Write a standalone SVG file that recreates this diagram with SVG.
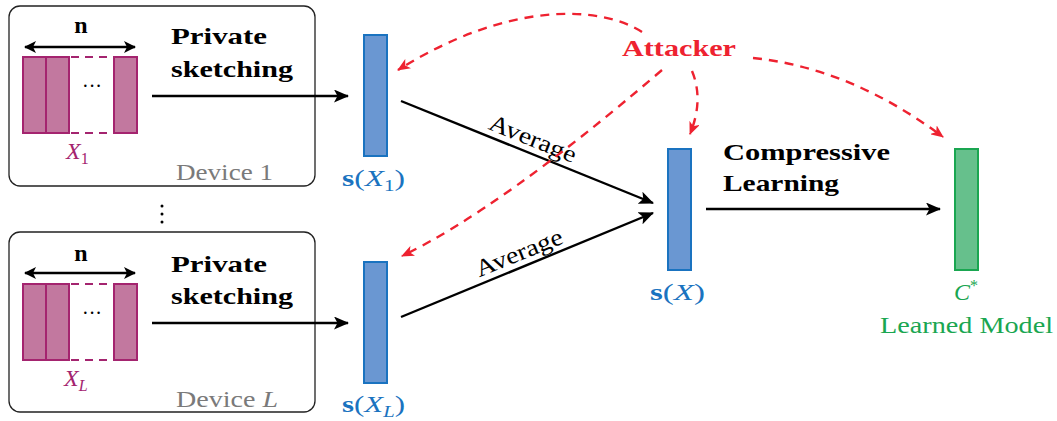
<svg xmlns="http://www.w3.org/2000/svg" width="1057" height="421" viewBox="0 0 1057 421">
<style>
text{font-family:"Liberation Serif","DejaVu Serif",serif;font-size:24px;}
.b{font-weight:bold;}
.it{font-style:italic;}
.dev{fill:#7a7a7a;}
.pur{fill:#a4246f;}
.blu{fill:#1a73c0;}
.grn{fill:#1aa651;}
.red{fill:#ee2230;}
.box{fill:none;stroke:#222;stroke-width:1.3;}
.pbar{fill:#c2789f;stroke:#a4246f;stroke-width:2;}
.pdash{stroke:#a4246f;stroke-width:2;stroke-dasharray:8 6;fill:none;}
.bbar{fill:#6a97d2;stroke:#1a73c0;stroke-width:2;}
.gbar{fill:#66c08c;stroke:#1aa651;stroke-width:2;}
.arr{stroke:#000;stroke-width:2.4;fill:none;marker-end:url(#ah);}
.dim{stroke:#000;stroke-width:2.4;fill:none;marker-end:url(#ah2);marker-start:url(#ah2s);}
.att{stroke:#ee2230;stroke-width:2.4;fill:none;stroke-dasharray:9 7;marker-end:url(#rh);}
.sub{font-size:16px;}
</style>
<defs>
<marker id="ah" viewBox="0 0 15 13" markerWidth="15" markerHeight="13" refX="14" refY="6.5" orient="auto" markerUnits="userSpaceOnUse"><path d="M0,0 L15,6.5 L0,13 L3.5,6.5 z" fill="#000"/></marker>
<marker id="ah2" viewBox="0 0 12 12" markerWidth="12" markerHeight="12" refX="11" refY="6" orient="auto" markerUnits="userSpaceOnUse"><path d="M0,0 L12,6 L0,12 L3,6 z" fill="#000"/></marker>
<marker id="ah2s" viewBox="0 0 12 12" markerWidth="12" markerHeight="12" refX="1" refY="6" orient="auto" markerUnits="userSpaceOnUse"><path d="M12,0 L0,6 L12,12 L9,6 z" fill="#000"/></marker>
<marker id="rh" viewBox="0 0 13 11" markerWidth="13" markerHeight="11" refX="12" refY="5.5" orient="auto" markerUnits="userSpaceOnUse"><path d="M0,0 L13,5.5 L0,11 L3.5,5.5 z" fill="#ee2230"/></marker>
</defs>

<g id="device1">
<rect class="box" x="9" y="6" width="306" height="180" rx="11"/>
<path class="dim" d="M25,47 L135,47"/>
<text class="b" x="81" y="33" text-anchor="middle">n</text>
<rect class="pbar" x="23" y="57" width="23" height="76"/>
<rect class="pbar" x="46" y="57" width="23" height="76"/>
<path class="pdash" d="M71,57 L114,57 M71,133 L114,133"/>
<rect class="pbar" x="114" y="57" width="23" height="76"/>
<text x="92" y="93" text-anchor="middle" style="font-size:20px">···</text>
<text class="pur" x="66" y="159"><tspan class="it">X</tspan><tspan class="sub" dy="5">1</tspan></text>
<text class="b" x="171" y="44" textLength="96" lengthAdjust="spacingAndGlyphs">Private</text>
<text class="b" x="171" y="77" textLength="122" lengthAdjust="spacingAndGlyphs">sketching</text>
<text class="dev" x="176" y="180" textLength="97" lengthAdjust="spacingAndGlyphs">Device 1</text>
</g>

<g id="dots">
<circle cx="162" cy="206" r="1.5"/>
<circle cx="162" cy="214" r="1.5"/>
<circle cx="162" cy="222" r="1.5"/>
</g>

<g id="deviceL">
<rect class="box" x="9" y="232" width="306" height="180" rx="11"/>
<path class="dim" d="M25,273 L135,273"/>
<text class="b" x="81" y="261" text-anchor="middle">n</text>
<rect class="pbar" x="23" y="284" width="23" height="76"/>
<rect class="pbar" x="46" y="284" width="23" height="76"/>
<path class="pdash" d="M71,284 L114,284 M71,360 L114,360"/>
<rect class="pbar" x="114" y="284" width="23" height="76"/>
<text x="92" y="320" text-anchor="middle" style="font-size:20px">···</text>
<text class="pur" x="64" y="386"><tspan class="it">X</tspan><tspan class="sub it" dy="5">L</tspan></text>
<text class="b" x="171" y="272" textLength="96" lengthAdjust="spacingAndGlyphs">Private</text>
<text class="b" x="171" y="304" textLength="122" lengthAdjust="spacingAndGlyphs">sketching</text>
<text class="dev" x="176" y="407" textLength="102" lengthAdjust="spacingAndGlyphs">Device <tspan class="it">L</tspan></text>
</g>

<g id="sketch1">
<rect class="bbar" x="364" y="35" width="23" height="121"/>
<text class="blu" x="342" y="186" textLength="63" lengthAdjust="spacingAndGlyphs"><tspan class="b">s</tspan>(<tspan class="it">X</tspan><tspan class="sub" dy="5">1</tspan><tspan dy="-5">)</tspan></text>
</g>

<g id="sketchL">
<rect class="bbar" x="364" y="262" width="23" height="121"/>
<text class="blu" x="342" y="412" textLength="63" lengthAdjust="spacingAndGlyphs"><tspan class="b">s</tspan>(<tspan class="it">X</tspan><tspan class="sub it" dy="5">L</tspan><tspan dy="-5">)</tspan></text>
</g>

<g id="sketch">
<rect class="bbar" x="668" y="149" width="23" height="121"/>
<text class="blu" x="650" y="300" textLength="55" lengthAdjust="spacingAndGlyphs"><tspan class="b">s</tspan>(<tspan class="it">X</tspan>)</text>
</g>

<g id="model">
<rect class="gbar" x="955" y="149" width="23" height="121"/>
<text class="grn" x="966" y="300" text-anchor="middle"><tspan class="it">C</tspan><tspan class="sub" dy="-9">*</tspan></text>
<text class="grn" x="880" y="333" textLength="173" lengthAdjust="spacingAndGlyphs">Learned Model</text>
</g>

<g id="attacker">
<text class="red b" x="622" y="56" textLength="114" lengthAdjust="spacingAndGlyphs">Attacker</text>
</g>

<g id="connectors">
<path class="arr" d="M152,96 L348,96"/>
<path class="arr" d="M152,323 L348,323"/>
<path class="arr" d="M401,101 L653,203"/>
<path class="arr" d="M401,317 L653,213"/>
<path class="arr" d="M706,209 L940,209"/>
<text transform="translate(530,146) rotate(22)" text-anchor="middle" textLength="92" lengthAdjust="spacingAndGlyphs">Average</text>
<text transform="translate(522,260) rotate(-22)" text-anchor="middle" textLength="92" lengthAdjust="spacingAndGlyphs">Average</text>
<text class="b" x="723" y="160" textLength="167" lengthAdjust="spacingAndGlyphs">Compressive</text>
<text class="b" x="723" y="191" textLength="116" lengthAdjust="spacingAndGlyphs">Learning</text>
<path class="att" d="M642,32 C600,5 508,1 398,70"/>
<path class="att" d="M662,70 Q500,209 402,256"/>
<path class="att" d="M692,71 Q704,100 690,134"/>
<path class="att" d="M753,58 Q851,68 943,137"/>
</g>
</svg>
